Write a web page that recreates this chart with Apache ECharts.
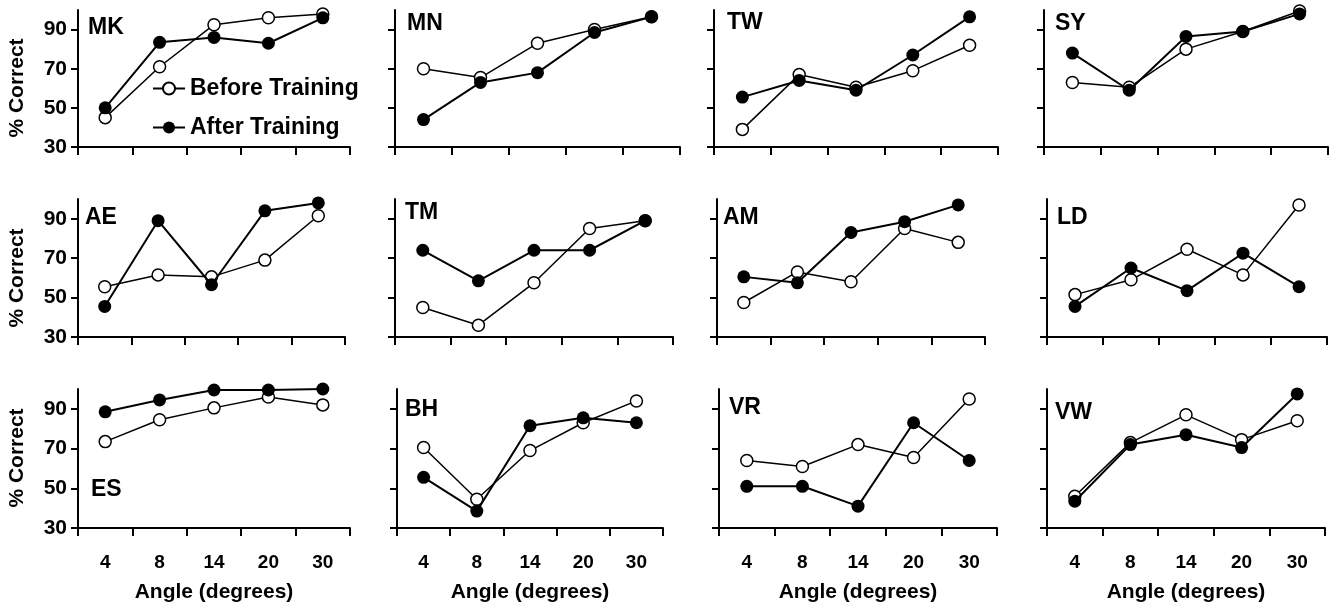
<!DOCTYPE html>
<html>
<head>
<meta charset="utf-8">
<script src="https://cdn.jsdelivr.net/npm/echarts@6/dist/echarts.min.js"></script>
<style>
  html, body { margin: 0; padding: 0; background: #fff; }
  #chart { width: 1336px; height: 610px; }
</style>
</head>
<body>
<div id="chart"></div>
<script>
// x categories and y ticks
const angles = ['4', '8', '14', '20', '30'];
const yTicks = [30, 50, 70, 90];

// % correct, before / after training, per subject
const mkBefore = [45, 71, 92.5, 96, 98];
const mkAfter  = [50, 83.5, 86, 83, 96];
const mnBefore = [70, 65.5, 83, 90, 96.5];
const mnAfter  = [44, 63, 68, 88.5, 96.5];
const twBefore = [39, 67, 60.5, 69, 82];
const twAfter  = [55.5, 64, 59, 77, 96.5];
const syBefore = [63, 60.5, 80, 89, 99.5];
const syAfter  = [78, 59, 86.5, 89, 98];
const aeBefore = [55.5, 61.5, 60.5, 69, 91.5];
const aeAfter  = [45.5, 89, 56.5, 94, 98];
const tmBefore = [45, 36, 57.5, 85, 89];
const tmAfter  = [74, 58.5, 74, 74, 89];
const amBefore = [47.5, 63, 58, 85, 78];
const amAfter  = [60.5, 57.5, 83, 88.5, 97];
const ldBefore = [51.5, 59, 74.5, 61.5, 97];
const ldAfter  = [45.5, 65, 53.5, 72.5, 55.5];
const esBefore = [73.5, 84.5, 90.5, 96, 92];
const esAfter  = [88.5, 94.5, 99.5, 99.5, 100];
const bhBefore = [70.5, 44.5, 69, 83, 94];
const bhAfter  = [55.5, 38.5, 81.5, 85.5, 83];
const vrBefore = [64, 61, 72, 65.5, 95];
const vrAfter  = [51, 51, 41, 83, 64];
const vwBefore = [46, 73, 87, 74.5, 84];
const vwAfter  = [43.5, 72, 77, 70.5, 97.5];

const panels = [
  ['MK', mkBefore, mkAfter], ['MN', mnBefore, mnAfter], ['TW', twBefore, twAfter], ['SY', syBefore, syAfter],
  ['AE', aeBefore, aeAfter], ['TM', tmBefore, tmAfter], ['AM', amBefore, amAfter], ['LD', ldBefore, ldAfter],
  ['ES', esBefore, esAfter], ['BH', bhBefore, bhAfter], ['VR', vrBefore, vrAfter], ['VW', vwBefore, vwAfter],
];

// layout: plot boxes (x from..to) per row, row tops/bottoms, panel label spots
const colBox = [
  [[78, 350], [395, 680], [714, 998], [1044, 1328]],
  [[78, 345], [395, 673], [717, 985], [1047, 1327]],
  [[78, 350], [397, 663], [719, 997], [1047, 1325]],
];
const rowBox = [[10, 147], [199, 337], [389, 528]];
const labelPos = [
  [88, 28], [407, 24], [727, 23], [1055, 24],
  [85, 218], [405, 213], [723, 218], [1057, 218],
  [91, 490], [405, 410], [729, 408], [1055, 413],
];

const FONT = '"Liberation Sans", Arial, Helvetica, sans-serif';
const black = '#000';
const axisLineStyle = { color: black, width: 2 };

const grid = [], xAxis = [], yAxis = [], series = [], title = [];

panels.forEach(([name, before, after], i) => {
  const row = Math.floor(i / 4), col = i % 4;
  const [x0, x1] = colBox[row][col];
  const [y0, y1] = rowBox[row];
  grid.push({ left: x0, top: y0, width: x1 - x0, height: y1 - y0 });

  xAxis.push({
    gridIndex: i,
    type: 'category',
    data: angles,
    boundaryGap: true,
    axisLine: { lineStyle: axisLineStyle },
    axisTick: { show: true, length: 8, lineStyle: axisLineStyle },
    axisLabel: { show: row === 2, margin: 25, fontSize: 19, fontWeight: 'bold', color: black },
    splitLine: { show: false },
    name: row === 2 ? 'Angle (degrees)' : '',
    nameLocation: 'middle',
    nameGap: 54,
    nameTextStyle: { fontSize: 21, fontWeight: 'bold', color: black },
  });

  yAxis.push({
    gridIndex: i,
    type: 'value',
    min: 30,
    max: 100,
    axisLine: { show: true, lineStyle: axisLineStyle },
    axisTick: { show: true, length: 7, customValues: yTicks, lineStyle: axisLineStyle },
    axisLabel: { show: col === 0, customValues: yTicks, margin: 11, fontSize: 21, fontWeight: 'bold', color: black },
    splitLine: { show: false },
  });

  series.push({
    name: 'Before Training',
    type: 'line',
    xAxisIndex: i,
    yAxisIndex: i,
    data: before,
    symbol: 'circle',
    symbolSize: 12,
    lineStyle: { color: black, width: 1.5 },
    itemStyle: { color: '#fff', borderColor: black, borderWidth: 1.5 },
    z: 2,
  });
  series.push({
    name: 'After Training',
    type: 'line',
    xAxisIndex: i,
    yAxisIndex: i,
    data: after,
    symbol: 'circle',
    symbolSize: 13,
    lineStyle: { color: black, width: 2 },
    itemStyle: { color: black },
    z: 3,
  });

  title.push({
    text: name,
    left: labelPos[i][0],
    top: labelPos[i][1] - 12,
    padding: 0,
    textStyle: { fontSize: 23, fontWeight: 'bold', color: black, fontFamily: FONT },
  });
});

// "% Correct" for each row, rotated
const yNameCenters = [88, 278, 458];
const graphic = yNameCenters.map(yc => ({
  type: 'text',
  x: 17,
  y: yc,
  rotation: Math.PI / 2,
  style: {
    text: '% Correct',
    font: 'bold 21px ' + FONT,
    fill: black,
    align: 'center',
    verticalAlign: 'middle',
    textAlign: 'center',
    textVerticalAlign: 'middle',
  },
}));

const chart = echarts.init(document.getElementById('chart'));
chart.setOption({
  animation: false,
  backgroundColor: '#fff',
  textStyle: { fontFamily: FONT },
  title,
  legend: {
    data: ['Before Training', 'After Training'],
    orient: 'vertical',
    left: 147,
    top: 72,
    itemGap: 16,
    itemWidth: 32,
    itemHeight: 15,
    selectedMode: false,
    textStyle: { fontSize: 23, fontWeight: 'bold', color: black },
  },
  grid,
  xAxis,
  yAxis,
  series,
  graphic,
});
</script>
</body>
</html>
